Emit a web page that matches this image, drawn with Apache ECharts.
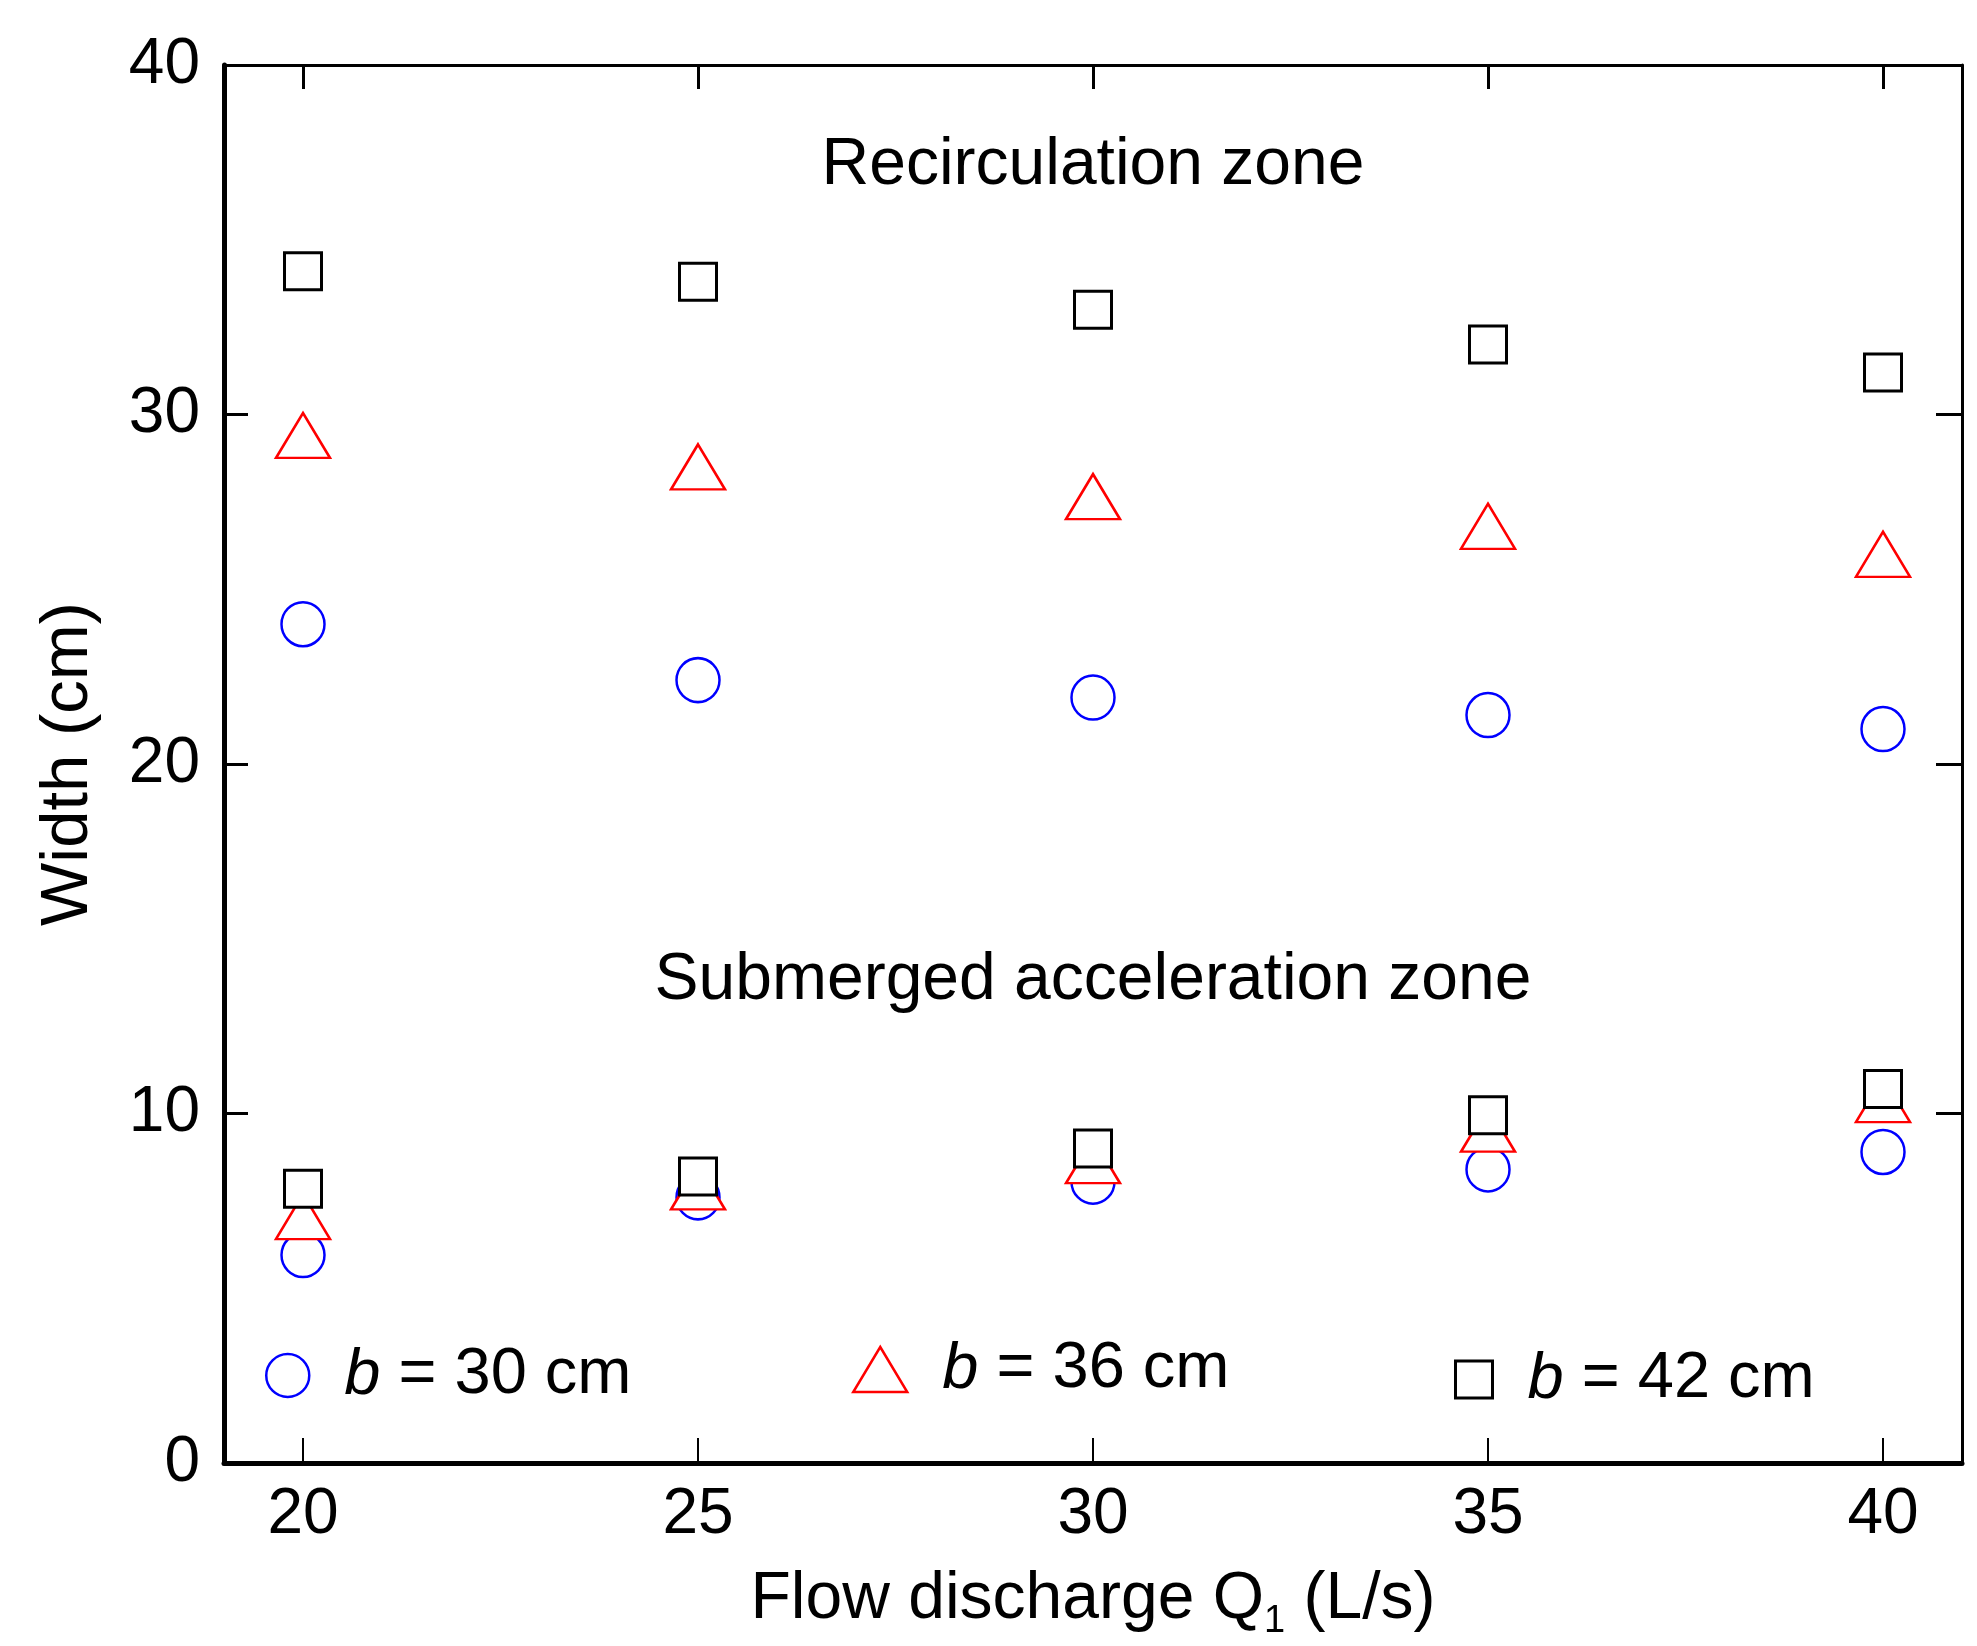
<!DOCTYPE html>
<html>
<head>
<meta charset="utf-8">
<script src="https://cdn.jsdelivr.net/npm/echarts@6/dist/echarts.min.js"></script>
<style>
html,body{margin:0;padding:0;background:#fff;}
#chart{width:1977px;height:1646px;}
</style>
</head>
<body>
<div id="chart"></div>
<script>
// ---- data ----
const Q = [20, 25, 30, 35, 40];
const xTicks = [20, 25, 30, 35, 40];
const yTicks = [0, 10, 20, 30, 40];
// Recirculation zone widths (cm)
const recirc_b30 = [24.0, 22.4, 21.9, 21.4, 21.0];
const recirc_b36 = [29.4, 28.5, 27.65, 26.8, 26.0];
const recirc_b42 = [34.1, 33.8, 33.0, 32.0, 31.2];
// Submerged acceleration zone widths (cm)
const accel_b30 = [5.95, 7.6, 8.05, 8.4, 8.9];
const accel_b36 = [7.05, 7.9, 8.65, 9.55, 10.4];
const accel_b42 = [7.85, 8.2, 9.0, 9.95, 10.7];
const seriesNames = ['b = 30 cm', 'b = 36 cm', 'b = 42 cm'];
const zoneLabels = [
  {text: 'Recirculation zone', at: [30, 37.13]},
  {text: 'Submerged acceleration zone', at: [30, 13.8]}
];

const FONT = '"Liberation Sans", Arial, sans-serif';
function pts(a, b) {
  const out = [];
  Q.forEach((q, i) => out.push([q, a[i]]));
  Q.forEach((q, i) => out.push([q, b[i]]));
  return out;
}
const styles = [
  {symbol: 'circle', size: [43, 44], color: '#0000ff', bw: 2.5},
  {symbol: 'triangle', size: [54, 45], color: '#ff0000', bw: 2.5},
  {symbol: 'rect', size: [37, 37], color: '#000000', bw: 3}
];
const dataSets = [pts(recirc_b30, accel_b30), pts(recirc_b36, accel_b36), pts(recirc_b42, accel_b42)];

const series = dataSets.map((d, k) => ({
  name: seriesNames[k],
  type: 'scatter',
  data: d,
  symbol: styles[k].symbol,
  symbolSize: styles[k].size,
  itemStyle: {color: '#ffffff', borderColor: styles[k].color, borderWidth: styles[k].bw, opacity: 1},
  emphasis: {disabled: true},
  z: 3 + k
}));

const legendPos = [
  {left: 260, top: 1338},
  {left: 847, top: 1332},
  {left: 1449, top: 1342}
];
const legends = seriesNames.map((n, k) => ({
  data: [{name: n, icon: styles[k].symbol,
          itemStyle: {color: '#ffffff', borderColor: styles[k].color, borderWidth: styles[k].bw}}],
  left: legendPos[k].left,
  top: legendPos[k].top,
  orient: 'horizontal',
  itemWidth: styles[k].size[0],
  itemHeight: styles[k].size[1],
  selectedMode: false,
  formatter: nm => '{i|b}{t|' + nm.slice(1) + '}',
  textStyle: {
    color: '#000', fontSize: 65, fontFamily: FONT,
    padding: [0, 0, 0, 30],
    rich: {
      i: {fontStyle: 'italic', fontSize: 65, fontFamily: FONT, color: '#000'},
      t: {fontSize: 65, fontFamily: FONT, color: '#000'}
    }
  }
}));

const chart = echarts.init(document.getElementById('chart'), null, {renderer: 'canvas'});
const option = {
  backgroundColor: '#ffffff',
  animation: false,
  grid: {left: 224, right: 15, top: 65, bottom: 183, containLabel: false},
  legend: legends,
  xAxis: [{
    type: 'value', position: 'bottom', min: 19, max: 41,
    name: 'Flow discharge Q{sub|1} (L/s)',
    nameLocation: 'middle', nameGap: 96,
    nameTextStyle: {color: '#000', fontSize: 66, fontFamily: FONT,
      rich: {sub: {fontSize: 38, fontFamily: FONT, color: '#000', verticalAlign: 'bottom', padding: [44, 0, 0, 0]}}},
    axisLine: {show: true, onZero: false, lineStyle: {color: '#000', width: 5}},
    axisTick: {show: true, inside: true, length: 25, customValues: xTicks, lineStyle: {color: '#000', width: 2}},
    axisLabel: {show: true, customValues: xTicks, margin: 20, color: '#000', fontSize: 64, fontFamily: FONT},
    splitLine: {show: false}
  }, {
    type: 'value', position: 'top', min: 19, max: 41,
    axisLine: {show: true, onZero: false, lineStyle: {color: '#000', width: 3}},
    axisTick: {show: true, inside: true, length: 24, customValues: xTicks, lineStyle: {color: '#000', width: 3}},
    axisLabel: {show: false},
    splitLine: {show: false}
  }],
  yAxis: [{
    type: 'value', position: 'left', min: 0, max: 40, interval: 10,
    name: 'Width (cm)', nameLocation: 'middle', nameGap: 122,
    nameTextStyle: {color: '#000', fontSize: 67, fontFamily: FONT},
    axisLine: {show: true, onZero: false, lineStyle: {color: '#000', width: 5}},
    axisTick: {show: true, inside: true, length: 24, lineStyle: {color: '#000', width: 3}},
    axisLabel: {show: true, margin: 24, color: '#000', fontSize: 64, fontFamily: FONT,
      customValues: yTicks},
    splitLine: {show: false}
  }, {
    type: 'value', position: 'right', min: 0, max: 40, interval: 10,
    axisLine: {show: true, onZero: false, lineStyle: {color: '#000', width: 3}},
    axisTick: {show: true, inside: true, length: 26, lineStyle: {color: '#000', width: 3}},
    axisLabel: {show: false},
    splitLine: {show: false}
  }],
  series: series
};
chart.setOption(option);

const graphics = zoneLabels.map(z => {
  const p = chart.convertToPixel({gridIndex: 0}, z.at);
  return {
    type: 'text', x: p[0], y: p[1], z: 10,
    style: {text: z.text, fill: '#000', font: '66px ' + FONT, align: 'center', verticalAlign: 'middle'}
  };
});
chart.setOption({graphic: graphics});
</script>
</body>
</html>
